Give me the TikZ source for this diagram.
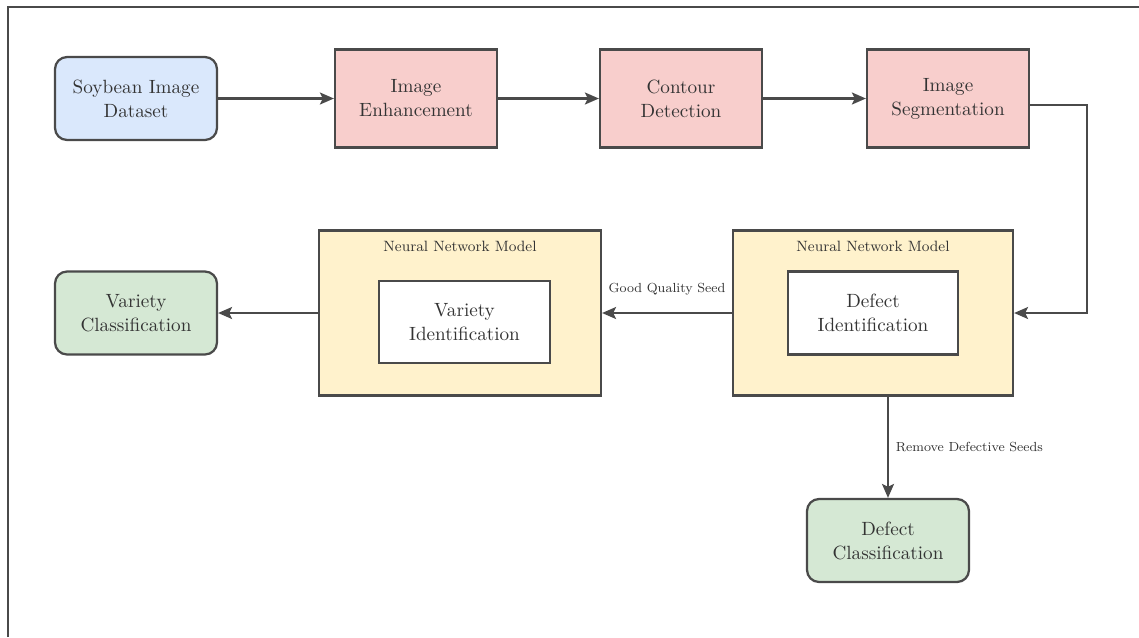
\documentclass[tikz,border=0pt]{standalone}
\usepackage{tikz}
\usetikzlibrary{positioning, arrows.meta}

\definecolor{edgegray}{HTML}{4A4A4A}
\definecolor{textgray}{HTML}{333333}
\definecolor{soyblue}{HTML}{DAE8FC}
\definecolor{procpink}{HTML}{F8CECC}
\definecolor{modelyellow}{HTML}{FFF2CC}
\definecolor{resultgreen}{HTML}{D5E8D4}

\begin{document}
\begin{tikzpicture}[x=0.02cm, y=-0.02cm,
    every node/.style={text=textgray, align=center, font=\fontsize{10.9}{13.7}\selectfont},
    roundbox/.style={draw=edgegray, line width=0.045cm, rounded corners=0.24cm, minimum width=3.24cm, minimum height=1.66cm},
    procbox/.style={draw=edgegray, line width=0.045cm, fill=procpink, minimum width=3.24cm, minimum height=1.96cm},
    modelbox/.style={draw=edgegray, line width=0.045cm, fill=modelyellow, minimum width=5.6cm, minimum height=3.3cm},
    innerbox/.style={draw=edgegray, line width=0.045cm, fill=white, minimum width=3.4cm, minimum height=1.66cm},
    modeltitle/.style={inner sep=0pt, anchor=north, font=\fontsize{8.5}{11}\selectfont},
    flowlabel/.style={inner sep=1pt, font=\fontsize{7.5}{10}\selectfont},
    flow/.style={draw=edgegray, line width=0.045cm, -{Stealth[length=0.28cm, width=0.24cm, inset=0.06cm]}}]

    % Page frame
    \useasboundingbox (0,0) rectangle (1139,637);
    \draw[line width=0.045cm, edgegray] (8,637) -- (8,7) -- (1139,7);

    % Top row: preprocessing
    \node[roundbox, fill=soyblue] (soy) at (136,98.5) {Soybean Image\\Dataset};
    \node[procbox] (enh) at (416,98.5) {Image\\Enhancement};
    \node[procbox] (cont) at (681,98.5) {Contour\\Detection};
    \node[procbox] (seg) at (948,98.5) {Image\\Segmentation};

    % Neural network models
    \node[modelbox] (nnd) at (873,313) {};
    \node[innerbox] (defid) at (873,313) {Defect\\Identification};
    \node[modeltitle, below=0.22cm of nnd.north] (nndtitle) {Neural Network Model};

    \node[modelbox, minimum width=5.64cm] (nnv) at (460,313) {};
    \node[innerbox, minimum width=3.42cm, minimum height=1.64cm] (varid) at (464.5,322) {Variety\\Identification};
    \node[modeltitle, below=0.22cm of nnv.north] (nnvtitle) {Neural Network Model};

    % Results
    \node[roundbox, fill=resultgreen] (varcls) at (136,313) {Variety\\Classification};
    \node[roundbox, fill=resultgreen] (defcls) at (888,540.5) {Defect\\Classification};

    % Connectors
    \coordinate (bend) at (1087,105);
    \draw[flow] (soy.east) -- (enh.west);
    \draw[flow] (enh.east) -- (cont.west);
    \draw[flow] (cont.east) -- (seg.west);
    \draw[flow] (seg.east |- bend) -- (bend) |- (nnd.east);
    \draw[flow] (nnd.west) -- node[flowlabel, above=0.3cm] {Good Quality Seed} (nnv.east);
    \draw[flow] (nnv.west) -- (varcls.east);
    \draw[flow] (nnd.south -| defcls.north) -- node[flowlabel, right=0.1cm] {Remove Defective Seeds} (defcls.north);
\end{tikzpicture}
\end{document}
